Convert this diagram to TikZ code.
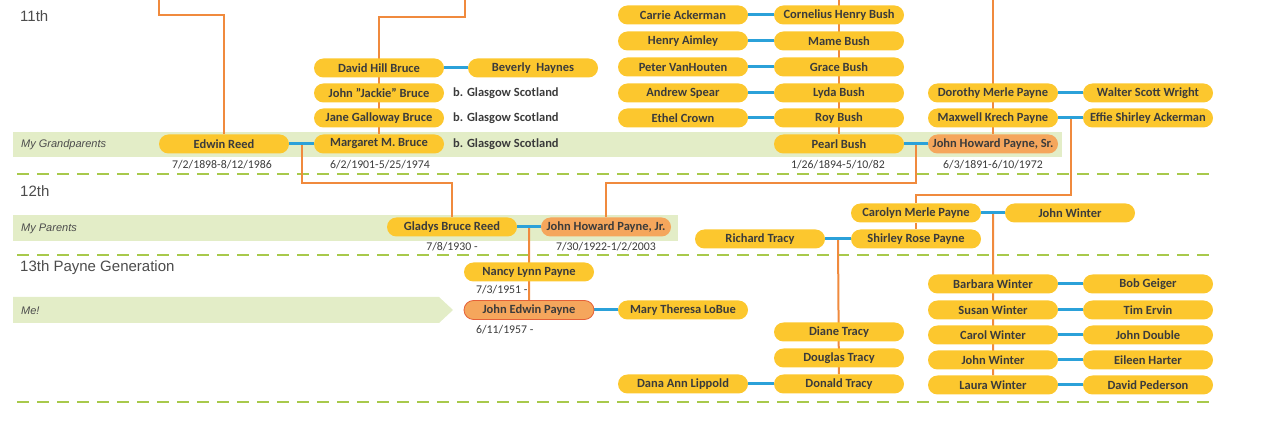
\documentclass[tikz,border=0pt]{standalone}
\usepackage{fontspec}
\setmainfont{Carlito}
\newfontfamily\headfont{Liberation Sans}
\usetikzlibrary{calc,backgrounds}

\begin{document}
\begin{tikzpicture}[x=1pt,y=-1pt]
      \newcommand{\colA}[0]{683}
      \newcommand{\colB}[0]{839}
      \newcommand{\colC}[0]{993}
      \newcommand{\colD}[0]{1148}

      \definecolor{pillyellow}{rgb}{0.99,0.78,0.18}
      \definecolor{pillorange}{rgb}{0.96,0.65,0.36}
      \definecolor{meborder}{rgb}{0.90,0.38,0.22}
      \definecolor{lineorange}{rgb}{0.94,0.54,0.24}
      \definecolor{lineblue}{rgb}{0.17,0.63,0.85}
      \definecolor{bandgreen}{rgb}{0.89,0.93,0.78}
      \definecolor{sepgreen}{rgb}{0.66,0.79,0.30}
      \definecolor{textgray}{rgb}{0.23,0.23,0.23}
      \definecolor{headgray}{rgb}{0.30,0.30,0.30}

      \tikzstyle{person}=[
        fill=pillyellow,
        rounded corners=9.5pt,
        minimum width=130pt,
        minimum height=19pt,
        inner sep=0pt,
        text=textgray,
        font=\bfseries\fontsize{12.5}{13}\selectfont
      ]
      \tikzstyle{payne}=[person, fill=pillorange]
      \tikzstyle{me}=[payne, draw=meborder, thick]
      \tikzstyle{note}=[inner sep=0pt, anchor=west, text=textgray, font=\bfseries\fontsize{12.5}{13}\selectfont]
      \tikzstyle{date}=[inner sep=0pt, text=textgray, font=\fontsize{11.8}{13}\selectfont]
      \tikzstyle{gen}=[inner sep=0pt, anchor=west, text=headgray, font=\headfont\fontsize{15}{17}\selectfont]
      \tikzstyle{bandlabel}=[inner sep=0pt, anchor=west, text=headgray, font=\headfont\itshape\fontsize{11}{13}\selectfont]
      \tikzstyle{band}=[fill=bandgreen]
      \tikzstyle{genline}=[draw=sepgreen, line width=2pt, dash pattern=on 12pt off 8pt]
      \tikzstyle{kin}=[draw=lineorange, line width=2pt]
      \tikzstyle{wed}=[draw=lineblue, line width=3pt]

      \useasboundingbox (0,0) rectangle (1280,427);

      % generation headings
      \node[gen] (g11) at (20,16) {11th};
      \node[gen] (g12) at (20,191) {12th};
      \node[gen] (g13) at (20,268) {13th Payne Generation};
      \node[bandlabel] (lblGrand) at (21,145) {My Grandparents};
      \node[bandlabel] (lblParents) at (21,229) {My Parents};
      \node[bandlabel] (lblMe) at (21,311) {Me!};

      % 11th generation
      \node[person] (carrie)    at (\colA,15)  {Carrie Ackerman};
      \node[person] (cornelius) at (\colB,15)  {Cornelius Henry Bush};
      \node[person] (henry)     at (\colA,41)  {Henry Aimley};
      \node[person] (mame)      at (\colB,41)  {Mame Bush};
      \node[person] (peter)     at (\colA,67)  {Peter VanHouten};
      \node[person] (grace)     at (\colB,67)  {Grace Bush};
      \node[person] (andrew)    at (\colA,93)  {Andrew Spear};
      \node[person] (lyda)      at (\colB,93)  {Lyda Bush};
      \node[person] (ethel)     at (\colA,118) {Ethel Crown};
      \node[person] (roy)       at (\colB,118) {Roy Bush};
      \node[person] (pearl)     at (\colB,144) {Pearl Bush};
      \node[payne]  (jhpsr)     at (\colC,144) {John Howard Payne, Sr.};
      \node[person] (dorothy)   at (\colC,93)  {Dorothy Merle Payne};
      \node[person] (walter)    at (\colD,93)  {Walter Scott Wright};
      \node[person] (maxwell)   at (\colC,118) {Maxwell Krech Payne};
      \node[person] (effie)     at (\colD,118) {Effie Shirley Ackerman};

      \node[person] (david)    at (379,68)  {David Hill Bruce};
      \node[person] (beverly)  at (533,68)  {Beverly\ \ Haynes};
      \node[person] (jackie)   at (379,93)  {John "Jackie" Bruce};
      \node[person] (jane)     at (379,118) {Jane Galloway Bruce};
      \node[person] (margaret) at (379,144) {Margaret M. Bruce};
      \node[person] (edwin)    at (224,144) {Edwin Reed};
      \node[note] (bornA) at (453,93)  {b. Glasgow Scotland};
      \node[note] (bornB) at (453,118) {b. Glasgow Scotland};
      \node[note] (bornC) at (453,144) {b. Glasgow Scotland};

      \node[date] (dEdwin)    at (222,165) {7/2/1898-8/12/1986};
      \node[date] (dMargaret) at (380,165) {6/2/1901-5/25/1974};
      \node[date] (dPearl)    at (838,165) {1/26/1894-5/10/82};
      \node[date] (dJhpsr)    at (993,165) {6/3/1891-6/10/1972};

      % 12th generation
      \node[person] (gladys)  at (452,227) {Gladys Bruce Reed};
      \node[payne]  (jhpjr)   at (606,227) {John Howard Payne, Jr.};
      \node[person] (carolyn) at (916,213) {Carolyn Merle Payne};
      \node[person] (jwinter) at (1070,213) {John Winter};
      \node[person] (richard) at (760,239) {Richard Tracy};
      \node[person] (shirley) at (916,239) {Shirley Rose Payne};
      \node[date] (dGladys) at (452,247) {7/8/1930 -};
      \node[date] (dJhpjr)  at (606,247) {7/30/1922-1/2/2003};

      % 13th generation
      \node[person] (nancy)   at (529,272) {Nancy Lynn Payne};
      \node[me]     (jep)     at (529,310) {John Edwin Payne};
      \node[person] (mary)    at (\colA,310) {Mary Theresa LoBue};
      \node[date, anchor=west] (dNancy) at (476,290) {7/3/1951 -};
      \node[date, anchor=west] (dJep)   at (476,330) {6/11/1957 -};

      \node[person] (diane)   at (\colB,332) {Diane Tracy};
      \node[person] (douglas) at (\colB,358) {Douglas Tracy};
      \node[person] (donald)  at (\colB,384) {Donald Tracy};
      \node[person] (dana)    at (\colA,384) {Dana Ann Lippold};

      \node[person] (barbara) at (\colC,284) {Barbara Winter};
      \node[person] (bob)     at (\colD,284) {Bob Geiger};
      \node[person] (susan)   at (\colC,310) {Susan Winter};
      \node[person] (tim)     at (\colD,310) {Tim Ervin};
      \node[person] (carol)   at (\colC,335) {Carol Winter};
      \node[person] (jdouble) at (\colD,335) {John Double};
      \node[person] (johnw)   at (\colC,360) {John Winter};
      \node[person] (eileen)  at (\colD,360) {Eileen Harter};
      \node[person] (laura)   at (\colC,385) {Laura Winter};
      \node[person] (davidp)  at (\colD,385) {David Pederson};

      \coordinate (topReed)   at (159,0);
      \coordinate (elbowReed) at (224,15);
      \coordinate (topBruce)   at (465,0);
      \coordinate (elbowBruce) at (379,17);
      \coordinate (topBush)  at (\colB,0);
      \coordinate (topPayne) at (\colC,0);
      \coordinate (elbowGladys)  at (452,183);
      \coordinate (elbowJr)      at (606,183);
      \coordinate (elbowCarolyn) at (916,195);

      \coordinate (wedRB) at ($(edwin.east)!0.5!(margaret.west)$);
      \coordinate (wedBP) at ($(pearl.east)!0.5!(jhpsr.west)$);
      \coordinate (wedKA) at ($(maxwell.east)!0.5!(effie.west)$);
      \coordinate (wedRP) at ($(gladys.east)!0.5!(jhpjr.west)$);
      \coordinate (wedTP) at ($(richard.east)!0.5!(shirley.west)$);
      \coordinate (wedPW) at ($(carolyn.east)!0.5!(jwinter.west)$);

      \begin{pgfonlayer}{background}
        \fill[band] (13,132) rectangle (1062,157);
        \fill[band] (13,215) rectangle (678,241);
        \fill[band] (13,297) -- (439,297) -- (453,310) -- (439,323) -- (13,323) -- cycle;

        \draw[genline] (17,174) -- (1213,174);
        \draw[genline] (17,255) -- (1213,255);
        \draw[genline] (17,402) -- (1213,402);

        \draw[kin] (topReed) |- (elbowReed) -- (edwin);
        \draw[kin] (topBruce) |- (elbowBruce) -- (margaret);
        \draw[kin] (topBush) -- (pearl);
        \draw[kin] (topPayne) -- (jhpsr);
        \draw[kin] (wedRB) |- (elbowGladys) -- (gladys);
        \draw[kin] (wedBP) |- (elbowJr) -- (jhpjr);
        \draw[kin] (wedKA) |- (elbowCarolyn) -- (carolyn);
        \draw[kin] (carolyn) -- (shirley);
        \draw[kin] (wedRP) -- (jep);
        \draw[kin] (wedTP) -- (donald);
        \draw[kin] (wedPW) -- (laura);

        \draw[wed] (carrie) -- (cornelius);
        \draw[wed] (henry) -- (mame);
        \draw[wed] (peter) -- (grace);
        \draw[wed] (andrew) -- (lyda);
        \draw[wed] (ethel) -- (roy);
        \draw[wed] (dorothy) -- (walter);
        \draw[wed] (maxwell) -- (effie);
        \draw[wed] (david) -- (beverly);
        \draw[wed] (edwin) -- (margaret);
        \draw[wed] (pearl) -- (jhpsr);
        \draw[wed] (gladys) -- (jhpjr);
        \draw[wed] (richard) -- (shirley);
        \draw[wed] (carolyn) -- (jwinter);
        \draw[wed] (jep) -- (mary);
        \draw[wed] (dana) -- (donald);
        \draw[wed] (barbara) -- (bob);
        \draw[wed] (susan) -- (tim);
        \draw[wed] (carol) -- (jdouble);
        \draw[wed] (johnw) -- (eileen);
        \draw[wed] (laura) -- (davidp);
      \end{pgfonlayer}
    \end{tikzpicture}
\end{document}
